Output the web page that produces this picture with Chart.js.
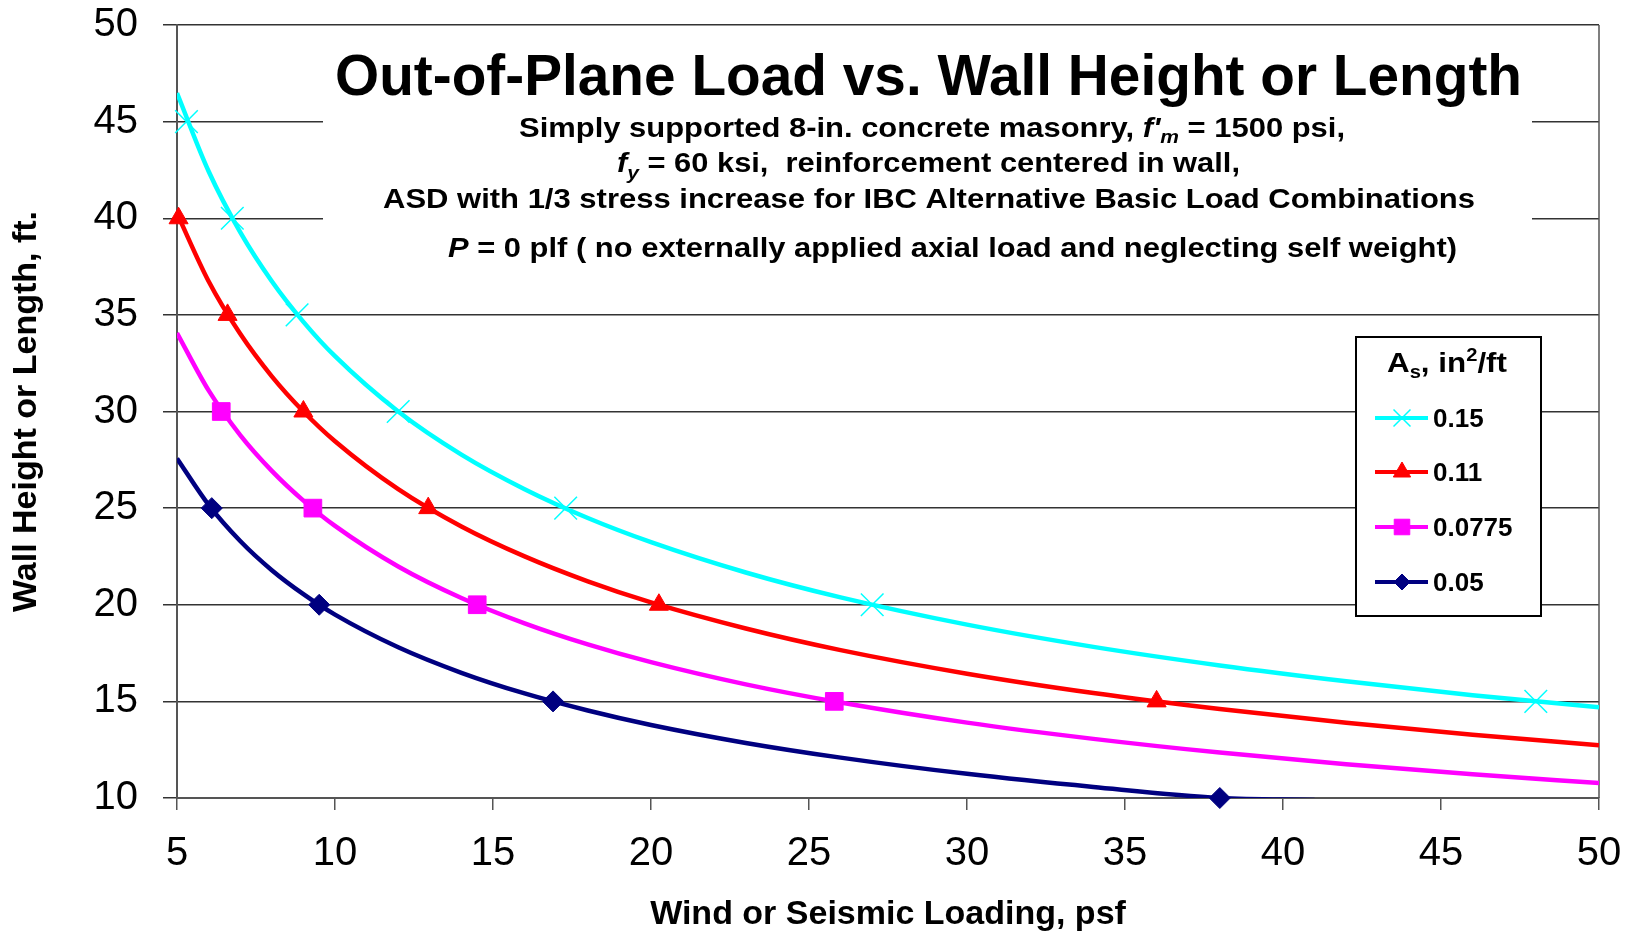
<!DOCTYPE html>
<html>
<head>
<meta charset="utf-8">
<title>Out-of-Plane Load vs. Wall Height or Length</title>
<script src="https://cdn.jsdelivr.net/npm/chart.js@4.4.1/dist/chart.umd.min.js"></script>
<style>
  html, body { margin: 0; padding: 0; background: #fff; }
  #wrap { width: 1629px; height: 933px; }
</style>
</head>
<body>
<div id="wrap"><canvas id="chart" width="1629" height="933"></canvas></div>
<script>
'use strict';

// Wind or seismic load (psf) sampled along the curves
var curveLoad = [5, 6, 7, 8, 9, 10, 12, 14, 16, 18, 20, 23, 26, 30, 34, 38, 42, 46, 50];
var curveLoadLow = [5, 6, 7, 8, 9, 10, 12, 14, 16, 18, 20, 23, 26, 30, 34, 38, 41];

// Wall height (ft), one array per steel area
var curve015 = [46.48, 42.43, 39.28, 36.74, 34.64, 32.86, 30.00, 27.77, 25.98, 24.49, 23.24, 21.67, 20.38, 18.97, 17.82, 16.86, 16.04, 15.32, 14.70];
var curve011 = [40.25, 36.74, 34.02, 31.82, 30.00, 28.46, 25.98, 24.05, 22.50, 21.21, 20.12, 18.77, 17.65, 16.43, 15.43, 14.60, 13.89, 13.27, 12.73];
var curve00775 = [34.06, 31.09, 28.78, 26.93, 25.39, 24.08, 21.98, 20.35, 19.04, 17.95, 17.03, 15.88, 14.94, 13.90, 13.06, 12.35, 11.75, 11.23, 10.77];
var curve005 = [27.57, 25.17, 23.30, 21.79, 20.55, 19.49, 17.80, 16.48, 15.41, 14.53, 13.78, 12.85, 12.09, 11.25, 10.57, 10.00, 9.90];

// Marked points (load, height)
var markLoad015 = [5.3, 6.75, 8.8, 12, 17.3, 27, 48];
var markHeight015 = [45, 40, 35, 30, 25, 20, 15];
var markLoad011 = [5.05, 6.6, 9, 12.95, 20.25, 36];
var markHeight011 = [40, 35, 30, 25, 20, 15];
var markLoad00775 = [6.4, 9.3, 14.5, 25.8];
var markHeight00775 = [30, 25, 20, 15];
var markLoad005 = [6.1, 9.5, 16.9, 38];
var markHeight005 = [25, 20, 15, 10];

var seriesLabels = ['0.15', '0.11', '0.0775', '0.05'];
var xTicks = [5, 10, 15, 20, 25, 30, 35, 40, 45, 50];
var yTicks = [10, 15, 20, 25, 30, 35, 40, 45, 50];

var FONT = "'Liberation Sans', Arial, sans-serif";

function points(xs, ys) {
  return xs.map(function(x, i) {
    return {x: x, y: ys[i]};
  });
}

var series = [
  {color: '#00FFFF', style: 'crossRot', radius: 16, legendRadius: 12, border: 1.5,
    curveX: curveLoad, curveY: curve015, markX: markLoad015, markY: markHeight015},
  {color: '#FF0000', style: 'triangle', radius: 11, legendRadius: 10, border: 1,
    curveX: curveLoad, curveY: curve011, markX: markLoad011, markY: markHeight011},
  {color: '#FF00FF', style: 'rect', radius: 12.5, legendRadius: 11, border: 1,
    curveX: curveLoad, curveY: curve00775, markX: markLoad00775, markY: markHeight00775},
  {color: '#000080', style: 'rectRot', radius: 10.5, legendRadius: 8, border: 1,
    curveX: curveLoadLow, curveY: curve005, markX: markLoad005, markY: markHeight005}
];

var datasets = [];
series.forEach(function(s, i) {
  datasets.push({
    label: seriesLabels[i],
    data: points(s.curveX, s.curveY),
    showLine: true,
    borderColor: s.color,
    borderWidth: 4.5,
    pointRadius: 0,
    cubicInterpolationMode: 'monotone',
    order: 2
  });
  datasets.push({
    label: seriesLabels[i] + ' points',
    data: points(s.markX, s.markY),
    showLine: false,
    pointStyle: s.style,
    pointRadius: s.radius,
    pointBackgroundColor: s.color,
    pointBorderColor: s.color,
    pointBorderWidth: s.border,
    clip: false,
    order: 1
  });
});

/**
 * Draw a line of mixed runs (italic, sub/superscripts) squeezed to a given width.
 */
function fitLine(ctx, runs, center, baseline, width) {
  var total = 0;
  runs.forEach(function(r) {
    ctx.font = r.font;
    r.w = ctx.measureText(r.text).width;
    total += r.w;
  });
  ctx.save();
  ctx.translate(center - width / 2, baseline);
  ctx.scale(width / total, 1);
  ctx.textAlign = 'left';
  ctx.textBaseline = 'alphabetic';
  var x = 0;
  runs.forEach(function(r) {
    ctx.font = r.font;
    ctx.fillText(r.text, x, r.dy || 0);
    x += r.w;
  });
  ctx.restore();
}

function f(style, size) {
  return style + ' ' + size + 'px ' + FONT;
}

var textBlock = {
  id: 'textBlock',
  beforeDatasetsDraw: function(chart) {
    var ctx = chart.ctx;
    var area = chart.chartArea;
    ctx.save();

    // right edge of the plot
    ctx.strokeStyle = '#555';
    ctx.lineWidth = 1.5;
    ctx.beginPath();
    ctx.moveTo(area.right, area.top);
    ctx.lineTo(area.right, area.bottom);
    ctx.stroke();

    // white panel behind the titles
    ctx.fillStyle = '#fff';
    ctx.fillRect(323, 32, 1209, 256);

    ctx.fillStyle = '#000';
    var B = f('bold', 28), BI = f('italic bold', 28), SUB = f('italic bold', 19);
    fitLine(ctx, [{text: 'Out-of-Plane Load vs. Wall Height or Length', font: f('bold', 58)}], 928.5, 95, 1187);
    fitLine(ctx, [
      {text: 'Simply supported 8-in. concrete masonry, ', font: B},
      {text: "f'", font: BI},
      {text: 'm', font: SUB, dy: 6},
      {text: ' = 1500 psi,', font: B}
    ], 932, 137, 826);
    fitLine(ctx, [
      {text: 'f', font: BI},
      {text: 'y', font: SUB, dy: 7},
      {text: ' = 60 ksi,  reinforcement centered in wall,', font: B}
    ], 928.5, 172, 623);
    fitLine(ctx, [{text: 'ASD with 1/3 stress increase for IBC Alternative Basic Load Combinations', font: B}], 929, 208, 1092);
    fitLine(ctx, [
      {text: 'P', font: BI},
      {text: ' = 0 plf ( no externally applied axial load and neglecting self weight)', font: B}
    ], 952.5, 257, 1009);
    ctx.restore();
  }
};

var legendBox = {
  id: 'legendBox',
  afterDatasetsDraw: function(chart) {
    var ctx = chart.ctx;
    ctx.save();
    ctx.fillStyle = '#fff';
    ctx.fillRect(1356, 337, 185, 279);
    ctx.strokeStyle = '#000';
    ctx.lineWidth = 2;
    ctx.strokeRect(1356, 337, 185, 279);

    ctx.fillStyle = '#000';
    fitLine(ctx, [
      {text: 'A', font: f('bold', 28)},
      {text: 's', font: f('bold', 18), dy: 6},
      {text: ', in', font: f('bold', 28)},
      {text: '2', font: f('bold', 18), dy: -11},
      {text: '/ft', font: f('bold', 28)}
    ], 1447, 372, 120);

    var rowY = [418, 472, 527, 582];
    series.forEach(function(s, i) {
      var y = rowY[i];
      ctx.strokeStyle = s.color;
      ctx.fillStyle = s.color;
      ctx.lineWidth = 4;
      ctx.beginPath();
      ctx.moveTo(1375, y);
      ctx.lineTo(1428, y);
      ctx.stroke();
      ctx.lineWidth = s.border;
      Chart.helpers.drawPoint(ctx, {pointStyle: s.style, radius: s.legendRadius, borderWidth: s.border, rotation: 0}, 1402, y);
      ctx.fillStyle = '#000';
      ctx.font = f('bold', 26);
      ctx.textAlign = 'left';
      ctx.textBaseline = 'alphabetic';
      ctx.fillText(seriesLabels[i], 1433, y + 9);
    });
    ctx.restore();
  }
};

Chart.defaults.font.family = FONT;
Chart.defaults.color = '#000';

new Chart(document.getElementById('chart'), {
  type: 'scatter',
  data: {datasets: datasets},
  options: {
    responsive: false,
    animation: false,
    events: [],
    layout: {padding: {top: 25, right: 30, left: 0, bottom: 0}},
    plugins: {
      legend: {display: false},
      tooltip: {enabled: false},
      title: {display: false}
    },
    scales: {
      x: {
        type: 'linear',
        min: 5,
        max: 50,
        afterBuildTicks: function(scale) {
          scale.ticks = xTicks.map(function(v) { return {value: v}; });
        },
        afterFit: function(scale) {
          scale.height = 135;
          scale.paddingLeft = 0;
          scale.paddingRight = 0;
        },
        grid: {drawOnChartArea: false, drawTicks: true, tickLength: 12, color: '#555', lineWidth: 1.5},
        border: {color: '#555', width: 2},
        ticks: {font: {size: 40}, padding: 20, maxRotation: 0, autoSkip: false},
        title: {display: true, text: 'Wind or Seismic Loading, psf', font: {size: 34, weight: 'bold', lineHeight: 1.1}, padding: {top: 0, bottom: 0}}
      },
      y: {
        type: 'linear',
        min: 10,
        max: 50,
        afterBuildTicks: function(scale) {
          scale.ticks = yTicks.map(function(v) { return {value: v}; });
        },
        afterFit: function(scale) {
          scale.width = 177;
          scale.paddingTop = 0;
          scale.paddingBottom = 0;
        },
        grid: {color: '#333', lineWidth: 1.5, tickLength: 14},
        border: {color: '#555', width: 2},
        ticks: {font: {size: 40}, padding: 25},
        title: {display: true, text: 'Wall Height or Length, ft.', font: {size: 34, weight: 'bold'}, padding: {top: 6, bottom: 0}}
      }
    }
  },
  plugins: [textBlock, legendBox]
});
</script>
</body>
</html>
